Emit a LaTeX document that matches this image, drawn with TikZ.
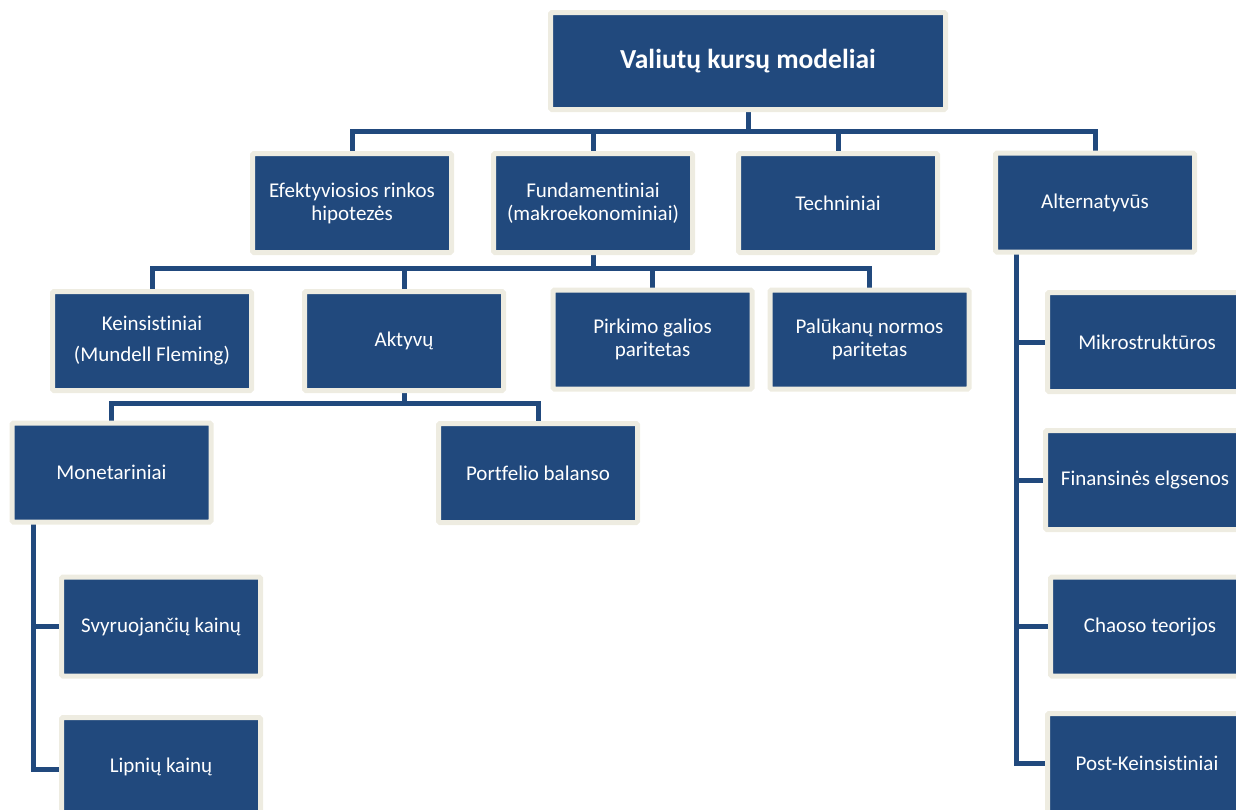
\documentclass[tikz,border=0pt]{standalone}
\usepackage{fontspec}
\setmainfont{Carlito}[Ligatures=NoCommon]
\usetikzlibrary{backgrounds,calc}
\definecolor{boxblue}{RGB}{33,73,125}
\definecolor{boxrim}{RGB}{238,236,225}
\tikzset{
  box/.style={fill=boxblue, draw=boxrim, line width=5pt, rounded corners=1.5pt,
    text=white, align=center, inner sep=0pt,
    minimum width=199pt, minimum height=99pt,
    font=\fontsize{21}{23}\selectfont},
  conn/.style={draw=boxblue, line width=5pt, line cap=rect},
}
\begin{document}
\begin{tikzpicture}[x=1pt,y=-1pt]
\useasboundingbox (0,0) rectangle (1236,809);
\clip (0,0) rectangle (1236,809);
% level 0
\node[box, minimum width=395pt, minimum height=97pt, font=\fontsize{27.5}{30}\selectfont\bfseries] (top) at (748,61) {Valiutų kursų modeliai};
% level 1
\node[box] (efekt) at (352,203) {Efektyviosios rinkos\\hipotezės};
\node[box] (fund) at (593,203) {Fundamentiniai\\(makroekonominiai)};
\node[box] (tech) at (838,203) {Techniniai};
\node[box] (alt) at (1095,202.5) {Alternatyvūs};
% level 2
\node[box, font=\fontsize{21}{31}\selectfont] (keins) at (152,341) {Keinsistiniai\\(Mundell Fleming)};
\node[box] (akt) at (404,341) {Aktyvų};
\node[box] (pirk) at (652.5,339.5) {Pirkimo galios\\paritetas};
\node[box] (pal) at (869.5,339.5) {Palūkanų normos\\paritetas};
% level 3
\node[box] (monet) at (111.5,472.5) {Monetariniai};
\node[box] (portf) at (538,473) {Portfelio balanso};
% level 4 left
\node[box] (svyr) at (161,626.5) {Svyruojančių kainų};
\node[box] (lipn) at (161,767) {Lipnių kainų};
% right column
\node[box] (mikro) at (1147,342) {Mikrostruktūros};
\node[box] (fin) at (1145,480) {Finansinės elgsenos};
\node[box] (chaos) at (1150,626.5) {Chaoso teorijos};
\node[box] (post) at (1147,763) {Post-Keinsistiniai};
% connectors
\begin{scope}[on background layer]
\coordinate (b1) at (748,131);
\draw[conn] (top.south) -- (b1);
\draw[conn] (efekt.north) |- (b1);
\draw[conn] (fund.north) |- (b1);
\draw[conn] (tech.north) |- (b1);
\draw[conn] (alt.north) |- (b1);
\coordinate (b2) at (593,268);
\draw[conn] (fund.south) -- (b2);
\draw[conn] (keins.north) |- (b2);
\draw[conn] (akt.north) |- (b2);
\draw[conn] (pirk.north) |- (b2);
\draw[conn] (pal.north) |- (b2);
\coordinate (b3) at (404,403);
\draw[conn] (akt.south) -- (b3);
\draw[conn] (monet.north) |- (b3);
\draw[conn] (portf.north) |- (b3);
\coordinate (mtop) at (33,522);
\draw[conn] (mtop) |- ($(lipn.west)+(0,2)$);
\draw[conn] (svyr.west) -- (svyr.west -| mtop);
\coordinate (atop) at (1016,252);
\draw[conn] (atop) |- (post.west);
\draw[conn] (mikro.west) -- (mikro.west -| atop);
\draw[conn] (fin.west) -- (fin.west -| atop);
\draw[conn] (chaos.west) -- (chaos.west -| atop);
\end{scope}
\end{tikzpicture}
\end{document}
